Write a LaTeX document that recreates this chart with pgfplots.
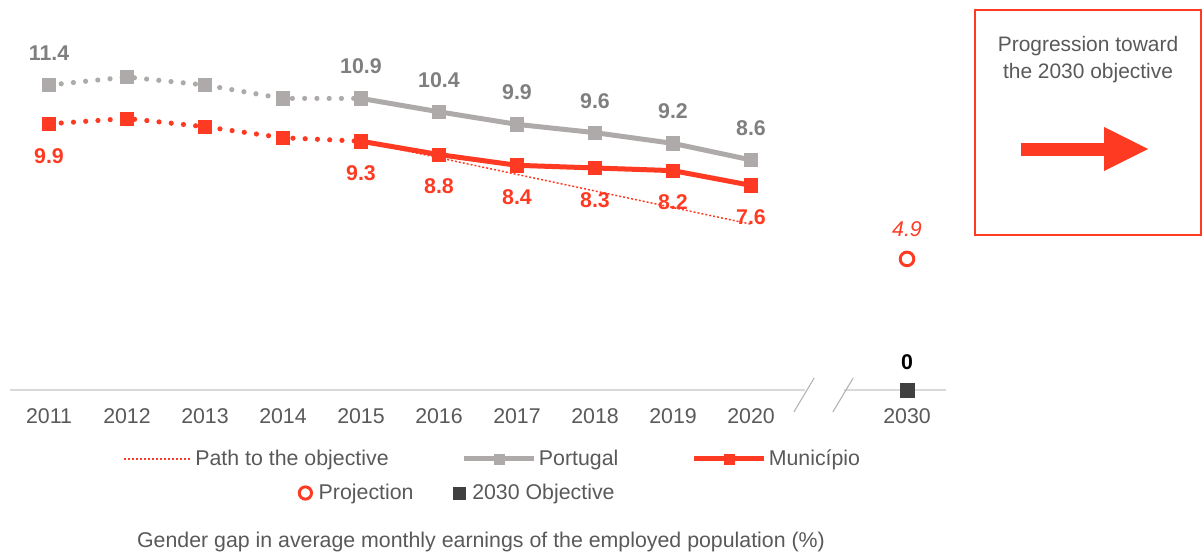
\documentclass[border=0pt]{standalone}
\usepackage{pgfplots}
\pgfplotsset{compat=1.18}
\usepackage{fontspec}
\setmainfont{Liberation Sans}
\definecolor{myred}{RGB}{255,58,34}
\definecolor{mygray}{RGB}{174,170,170}
\definecolor{labgray}{RGB}{127,127,127}
\definecolor{txt}{RGB}{89,89,89}
\definecolor{dark}{RGB}{64,64,64}
\definecolor{axgray}{RGB}{217,217,217}
\newcommand{\F}{\fontsize{16}{19}\selectfont}
\pgfplotsset{
  pathleg/.style={legend image code/.code={\draw[##1] (0pt,0pt) -- (51pt,0pt);}},
  lineleg/.style={legend image code/.code={\draw[##1, mark size=3.75pt, mark repeat=2, mark phase=2] plot coordinates {(0pt,0pt) (26pt,0pt) (52pt,0pt)};}},
  circleg/.style={legend image code/.code={\draw[##1, mark size=4.6pt, mark indices={1}] plot coordinates {(0pt,0pt) (8pt,0pt)}; \path[draw=none,fill=none] (-5pt,0pt) -- (8pt,0pt);}},
  squareleg/.style={legend image code/.code={\draw[##1, mark size=4.6pt, mark indices={1}] plot coordinates {(0pt,0pt) (8pt,0pt)}; \path[draw=none,fill=none] (-5pt,0pt) -- (8pt,0pt);}},
}
\begin{document}
\begin{tikzpicture}[font=\F]
\useasboundingbox (-7.5pt,-122.25pt) rectangle (894pt,292.5pt);
\begin{axis}[
  at={(0pt,0pt)}, anchor=south west, scale only axis,
  width=702pt, height=288.9pt,
  xmin=-0.5, xmax=11.5, ymin=0, ymax=14.4,
  clip=false,
  axis x line*=bottom, hide y axis, axis line style={draw=none},
  xtick={0,1,2,3,4,5,6,7,8,9,11},
  xticklabels={2011,2012,2013,2014,2015,2016,2017,2018,2019,2020,2030},
  major tick length=0pt,
  xticklabel style={anchor=center, yshift=-19.5pt, text=txt, font=\F},
  legend style={at={(0.516,-0.179)}, anchor=center, draw=none, fill=none,
    legend columns=3, /tikz/every even column/.append style={column sep=53pt},
    font=\F, text=txt},
  legend cell align=left,
]
\draw[axgray, line width=1.5pt] (axis cs:-0.5,0) -- (axis cs:9.69,0);
\draw[axgray, line width=1.5pt] (axis cs:10.19,0) -- (axis cs:11.5,0);
\draw[gray!60, line width=0.8pt] (axis cs:9.55,-0.82) -- (axis cs:9.81,0.45);
\draw[gray!60, line width=0.8pt] (axis cs:10.05,-0.82) -- (axis cs:10.31,0.45);

% Path to the objective
\addplot[myred, line width=1.1pt, dash pattern=on 1.5pt off 1.5pt, pathleg]
  coordinates {(4,9.3) (9,6.2)};
\addlegendentry{Path to the objective}

% Portugal dotted part
\addplot[forget plot, mygray, line width=3.9pt, line cap=round, dash pattern=on 0pt off 9.2pt,
  mark=square*, mark size=5pt, mark options={solid, line width=0.4pt},
  nodes near coords, point meta=explicit symbolic,
  every node near coord/.append style={font=\bfseries\F, text=labgray, anchor=center, yshift=24pt}]
  table[meta=lab] {
x y lab
0 11.4 11.4
1 11.7 {}
2 11.4 {}
3 10.9 {}
4 10.9 {}
};
% Portugal solid part
\addplot[mygray, line width=3.75pt,
  mark=square*, mark size=5pt, mark options={solid, line width=0.4pt},
  nodes near coords, point meta=explicit symbolic,
  every node near coord/.append style={font=\bfseries\F, text=labgray, anchor=center, yshift=24pt},
  lineleg]
  table[meta=lab] {
x y lab
4 10.9 10.9
5 10.4 10.4
6 9.93 9.9
7 9.62 9.6
8 9.22 9.2
9 8.6 8.6
};
\addlegendentry{Portugal}

% Municipio dotted part
\addplot[forget plot, myred, line width=3.9pt, line cap=round, dash pattern=on 0pt off 9.2pt,
  mark=square*, mark size=5pt, mark options={solid, line width=0.4pt},
  nodes near coords, point meta=explicit symbolic,
  every node near coord/.append style={font=\bfseries\F, text=myred, anchor=center, yshift=-24pt}]
  table[meta=lab] {
x y lab
0 9.95 9.9
1 10.15 {}
2 9.84 {}
3 9.43 {}
4 9.3 {}
};
% Municipio solid part
\addplot[myred, line width=3.75pt,
  mark=square*, mark size=5pt, mark options={solid, line width=0.4pt},
  nodes near coords, point meta=explicit symbolic,
  every node near coord/.append style={font=\bfseries\F, text=myred, anchor=center, yshift=-24pt},
  lineleg]
  table[meta=lab] {
x y lab
4 9.3 9.3
5 8.8 8.8
6 8.4 8.4
7 8.3 8.3
8 8.2 8.2
9 7.65 7.6
};
\addlegendentry{Município}
\end{axis}

\begin{axis}[
  at={(0pt,0pt)}, anchor=south west, scale only axis,
  width=702pt, height=288.9pt,
  xmin=-0.5, xmax=11.5, ymin=0, ymax=14.4,
  clip=false, hide axis,
  legend style={at={(0.4786,-0.2674)}, anchor=center, draw=none, fill=none,
    legend columns=2, /tikz/every even column/.append style={column sep=27pt},
    font=\F, text=txt},
  legend cell align=left,
]
\addplot[only marks, mark=*, mark size=5.1pt, color=myred,
  mark options={fill=white, line width=2.2pt},
  nodes near coords, point meta=explicit symbolic,
  every node near coord/.append style={font=\itshape\F, text=myred, anchor=center, yshift=22.5pt},
  circleg]
  coordinates {(11,4.9) [4.9]};
\addlegendentry{Projection}
\addplot[only marks, mark=square*, mark size=5.25pt, color=dark,
  nodes near coords, point meta=explicit symbolic,
  every node near coord/.append style={font=\bfseries\F, text=black, anchor=center, yshift=21pt},
  squareleg]
  coordinates {(11,0) [0]};
\addlegendentry{2030 Objective}
\end{axis}

\node[text=txt, font=\F] at (353.25pt,-114pt) {Gender gap in average monthly earnings of the employed population (\%)};

\draw[myred, line width=1.5pt] (723.75pt,116.25pt) rectangle (893.25pt,285pt);
\node[text=txt, align=center, font=\fontsize{15.7}{20.25}\selectfont] at (808.5pt,247.9pt) {Progression toward\\the 2030 objective};
\fill[myred] (758.25pt,175.5pt) rectangle (821.25pt,185.25pt);
\fill[myred] (820.5pt,197.25pt) -- (853.5pt,180.75pt) -- (820.5pt,164.25pt) -- cycle;
\end{tikzpicture}
\end{document}
